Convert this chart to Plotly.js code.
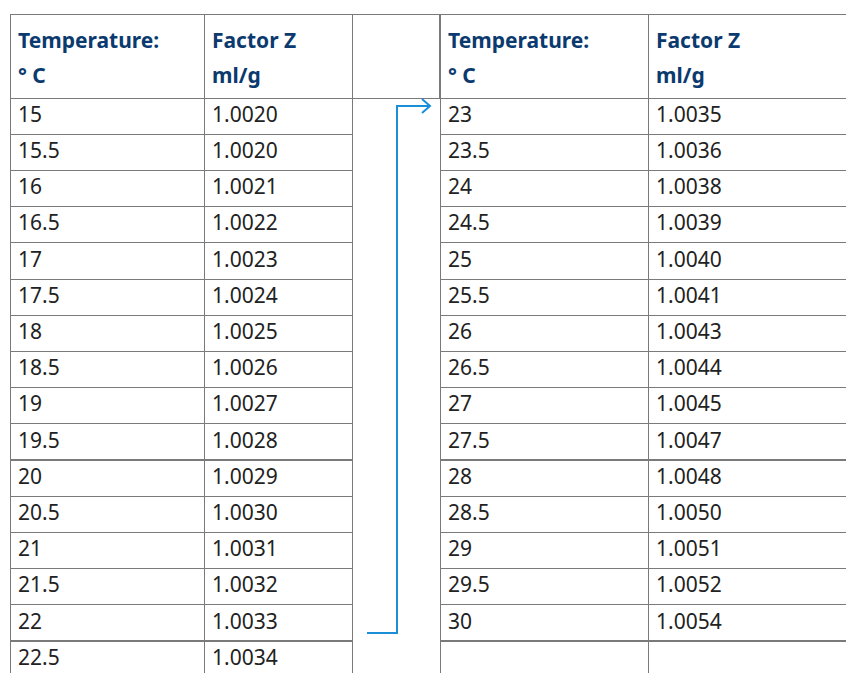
<!DOCTYPE html>
<html><head><meta charset="utf-8">
<script src="https://cdn.plot.ly/plotly-3.0.1.min.js"></script>
<style>html,body{margin:0;padding:0;overflow:hidden;background:#fff}</style>
</head><body><div id="chart"></div>
<script>
const headerLine1 = ['Temperature:', 'Factor Z'];
const headerLine2 = ['° C', 'ml/g'];
const tempLeft = ['15','15.5','16','16.5','17','17.5','18','18.5','19','19.5','20','20.5','21','21.5','22','22.5'];
const factorLeft = ['1.0020','1.0020','1.0021','1.0022','1.0023','1.0024','1.0025','1.0026','1.0027','1.0028','1.0029','1.0030','1.0031','1.0032','1.0033','1.0034'];
const tempRight = ['23','23.5','24','24.5','25','25.5','26','26.5','27','27.5','28','28.5','29','29.5','30',''];
const factorRight = ['1.0035','1.0036','1.0038','1.0039','1.0040','1.0041','1.0043','1.0044','1.0045','1.0047','1.0048','1.0050','1.0051','1.0052','1.0054',''];

const W = 880, H = 700;
const top0 = 14, headH = 84, rowH = 36.2;
const lineC = '#7a7a7a', headC = '#0b3a6f', txtC = '#222222';
const fontFam = 'Noto Sans, sans-serif';
const xL0 = 10, xL1 = 352, xR0 = 440, xR1 = 872;
const wL = [194, 148], wR = [208, 224];

function tbl(x0, x1, ncols, cols, widths) {
  return {
    type: 'table',
    domain: {x: [x0 / W, x1 / W], y: [0, 1 - top0 / H]},
    columnwidth: widths,
    header: {values: Array(ncols).fill(''), align: 'left', height: headH,
      line: {color: lineC, width: 1}, fill: {color: '#ffffff'},
      font: {family: fontFam, size: 21, color: headC}},
    cells: {values: cols, align: 'left', height: rowH,
      line: {color: lineC, width: 1}, fill: {color: '#ffffff'},
      font: {family: fontFam, size: 21, color: txtC}}
  };
}

const traces = [
  tbl(xL0, xL1, 2, [tempLeft, factorLeft], wL),
  tbl(xL1, xR0, 1, [[]], [88]),
  tbl(xR0, xR1, 2, [tempRight, factorRight], wR)
];

// header texts (two lines each) placed inside the header cells
const colLefts = [xL0, xL0 + wL[0], xR0, xR0 + wR[0]];
const annotations = [];
colLefts.forEach((xl, i) => {
  [[headerLine1, 40], [headerLine2, 75]].forEach(([arr, yc]) => {
    annotations.push({xref: 'paper', yref: 'paper', x: (xl + 7) / W, y: 1 - yc / H,
      xanchor: 'left', yanchor: 'middle', showarrow: false, borderpad: 0,
      text: '<b>' + arr[i % 2] + '</b>',
      font: {family: fontFam, size: 21, color: headC}});
  });
});

// arrow from the last left-column row ("22") to the first right-column row ("23")
const arrowC = '#1a8fd8';
const yStart = top0 + headH + (tempLeft.indexOf('22') + 0.5) * rowH + 10;
const yEnd = top0 + headH + 8;
const xa0 = 367, xa1 = 397, xa2 = 430;
const shapes = [
  {type: 'path', xref: 'paper', yref: 'paper',
   path: `M ${xa0/W} ${1-yStart/H} L ${xa1/W} ${1-yStart/H} L ${xa1/W} ${1-yEnd/H} L ${xa2/W} ${1-yEnd/H}`,
   line: {color: arrowC, width: 2}},
  {type: 'path', xref: 'paper', yref: 'paper',
   path: `M ${(xa2-8)/W} ${1-(yEnd-7)/H} L ${xa2/W} ${1-yEnd/H} L ${(xa2-8)/W} ${1-(yEnd+7)/H}`,
   line: {color: arrowC, width: 2}}
];

Plotly.newPlot('chart', traces, {
  width: W, height: H, margin: {l: 0, r: 0, t: 0, b: 0},
  paper_bgcolor: '#fff', shapes: shapes, annotations: annotations, showlegend: false
}, {staticPlot: true, displayModeBar: false});
</script></body></html>
